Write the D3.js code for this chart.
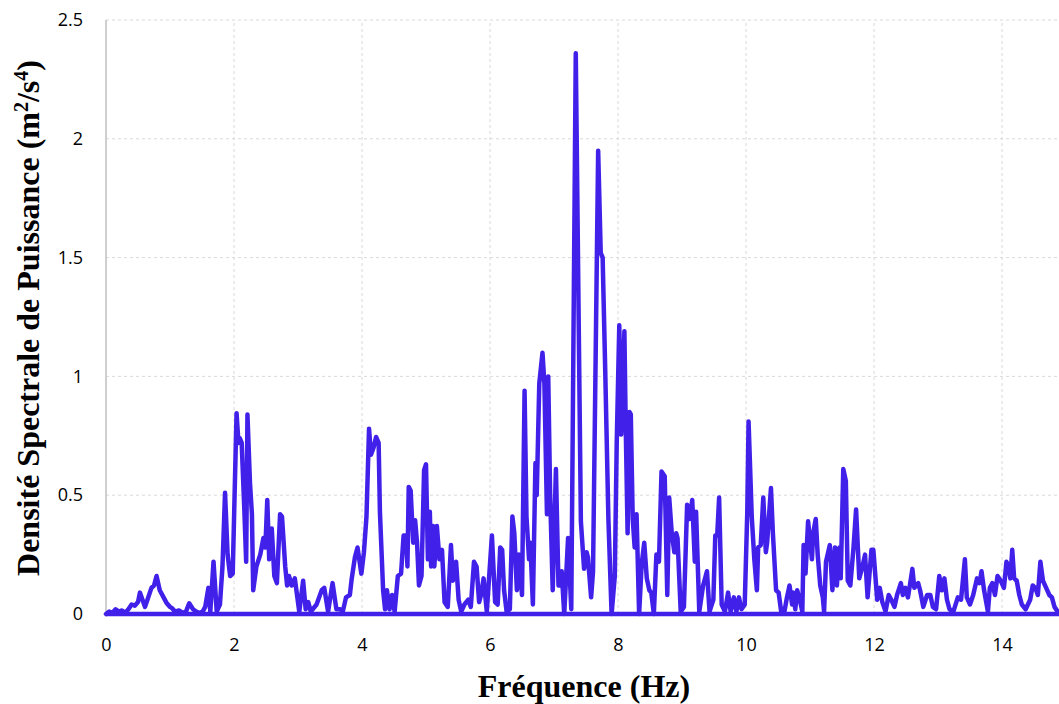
<!DOCTYPE html>
<html>
<head>
<meta charset="utf-8">
<script src="https://cdn.jsdelivr.net/npm/d3@7"></script>
<style>
  body { margin: 0; background: #fff; }
  svg { display: block; }
</style>
</head>
<body>
<div id="chart"></div>
<script>
// Fréquence (Hz)
const freq = [
  0.0, 0.05, 0.1, 0.15, 0.2, 0.25, 0.3, 0.35, 0.4, 0.45, 0.5, 0.53, 0.57, 0.61, 0.66, 0.71, 0.75, 0.79, 0.84, 0.9,
  0.95, 1.0, 1.03, 1.08, 1.14, 1.2, 1.25, 1.3, 1.36, 1.41, 1.46, 1.51, 1.55, 1.6, 1.63, 1.68, 1.73, 1.78, 1.82, 1.86,
  1.9, 1.94, 1.98, 2.04, 2.07, 2.09, 2.12, 2.16, 2.19, 2.21, 2.25, 2.28, 2.3, 2.35, 2.41, 2.46, 2.49, 2.52, 2.55, 2.59,
  2.63, 2.67, 2.72, 2.75, 2.8, 2.83, 2.86, 2.9, 2.95, 3.02, 3.08, 3.12, 3.16, 3.2, 3.29, 3.37, 3.41, 3.47, 3.54, 3.6,
  3.66, 3.7, 3.75, 3.81, 3.84, 3.89, 3.93, 3.99, 4.03, 4.07, 4.11, 4.14, 4.18, 4.22, 4.26, 4.28, 4.33, 4.36, 4.39, 4.43,
  4.47, 4.51, 4.56, 4.61, 4.65, 4.69, 4.71, 4.73, 4.76, 4.8, 4.83, 4.86, 4.89, 4.93, 4.97, 5.0, 5.03, 5.06, 5.08, 5.11,
  5.13, 5.17, 5.21, 5.25, 5.29, 5.34, 5.36, 5.39, 5.42, 5.47, 5.51, 5.55, 5.6, 5.66, 5.7, 5.75, 5.79, 5.83, 5.86, 5.9,
  5.95, 6.03, 6.08, 6.12, 6.16, 6.19, 6.22, 6.26, 6.31, 6.35, 6.38, 6.42, 6.45, 6.5, 6.54, 6.57, 6.61, 6.63, 6.67, 6.71,
  6.73, 6.77, 6.82, 6.85, 6.89, 6.91, 6.94, 6.98, 7.03, 7.07, 7.1, 7.12, 7.16, 7.22, 7.27, 7.34, 7.42, 7.47, 7.51, 7.53,
  7.58, 7.61, 7.69, 7.73, 7.76, 7.8, 7.85, 7.9, 7.95, 7.98, 8.02, 8.05, 8.07, 8.1, 8.12, 8.15, 8.18, 8.2, 8.23, 8.26,
  8.29, 8.33, 8.37, 8.41, 8.45, 8.49, 8.52, 8.56, 8.6, 8.64, 8.68, 8.73, 8.77, 8.8, 8.84, 8.88, 8.91, 8.93, 8.98, 9.03,
  9.08, 9.12, 9.16, 9.2, 9.22, 9.27, 9.33, 9.39, 9.43, 9.49, 9.52, 9.55, 9.58, 9.62, 9.67, 9.72, 9.76, 9.81, 9.85, 9.89,
  9.93, 9.98, 10.02, 10.04, 10.09, 10.13, 10.17, 10.19, 10.23, 10.27, 10.31, 10.33, 10.39, 10.42, 10.47, 10.51, 10.55, 10.6, 10.64, 10.68,
  10.72, 10.74, 10.77, 10.8, 10.84, 10.88, 10.9, 10.93, 10.97, 11.0, 11.03, 11.05, 11.09, 11.12, 11.16, 11.2, 11.22, 11.25, 11.31, 11.35,
  11.39, 11.42, 11.46, 11.48, 11.52, 11.56, 11.59, 11.63, 11.68, 11.72, 11.77, 11.82, 11.86, 11.9, 11.96, 11.99, 12.05, 12.09, 12.13, 12.18,
  12.23, 12.27, 12.32, 12.36, 12.42, 12.45, 12.49, 12.53, 12.56, 12.6, 12.63, 12.69, 12.72, 12.77, 12.83, 12.88, 12.92, 12.97, 13.02, 13.06,
  13.1, 13.14, 13.18, 13.24, 13.31, 13.36, 13.42, 13.45, 13.5, 13.55, 13.61, 13.65, 13.68, 13.72, 13.78, 13.81, 13.85, 13.89, 13.93, 13.98,
  14.03, 14.07, 14.1, 14.13, 14.16, 14.19, 14.23, 14.27, 14.31, 14.37, 14.44, 14.48, 14.52, 14.56, 14.6, 14.64, 14.69, 14.74, 14.78, 14.82,
  14.87, 14.92
];

// Densité spectrale de puissance (m²/s⁴)
const psd = [
  0.0, 0.01, 0.005, 0.02, 0.01, 0.015, 0.005, 0.02, 0.04, 0.035, 0.05, 0.09, 0.06, 0.03, 0.07, 0.11, 0.12, 0.16, 0.1, 0.07,
  0.045, 0.03, 0.025, 0.01, 0.015, 0.005, 0.01, 0.045, 0.02, 0.01, 0.005, 0.01, 0.03, 0.11, 0.01, 0.22, 0.01, 0.04, 0.2, 0.51,
  0.25, 0.16, 0.17, 0.845, 0.72, 0.74, 0.72, 0.45, 0.22, 0.84, 0.55, 0.42, 0.1, 0.2, 0.25, 0.32, 0.28, 0.48, 0.23, 0.36,
  0.16, 0.13, 0.42, 0.41, 0.2, 0.12, 0.16, 0.12, 0.15, 0.01, 0.14, 0.02, 0.05, 0.01, 0.04, 0.1, 0.11, 0.01, 0.13, 0.02,
  0.02, 0.01, 0.07, 0.08, 0.15, 0.24, 0.28, 0.17, 0.26, 0.41, 0.78, 0.67, 0.7, 0.745, 0.72, 0.43, 0.1, 0.02, 0.1, 0.02,
  0.08, 0.01, 0.16, 0.17, 0.33, 0.33, 0.2, 0.535, 0.52, 0.3, 0.395, 0.3, 0.12, 0.16, 0.605, 0.63, 0.23, 0.43, 0.2, 0.37,
  0.2, 0.37, 0.23, 0.27, 0.05, 0.03, 0.13, 0.29, 0.14, 0.22, 0.06, 0.01, 0.04, 0.06, 0.03, 0.22, 0.2, 0.05, 0.08, 0.15,
  0.01, 0.33, 0.05, 0.04, 0.28, 0.27, 0.1, 0.01, 0.02, 0.41, 0.34, 0.1, 0.25, 0.08, 0.94, 0.41, 0.23, 0.3, 0.04, 0.635,
  0.5, 0.97, 1.1, 0.97, 0.42, 1.0, 0.5, 0.1, 0.61, 0.12, 0.12, 0.18, 0.0, 0.32, 0.02, 2.36, 0.39, 0.19, 0.26, 0.24,
  0.07, 0.18, 1.95, 1.52, 1.5, 1.03, 0.4, 0.0, 0.16, 0.72, 1.215, 0.755, 0.95, 1.19, 0.8, 0.34, 0.85, 0.84, 0.4, 0.28,
  0.42, 0.0, 0.21, 0.3, 0.15, 0.1, 0.09, 0.0, 0.25, 0.22, 0.6, 0.58, 0.08, 0.49, 0.34, 0.26, 0.34, 0.32, 0.01, 0.03,
  0.46, 0.4, 0.48, 0.22, 0.43, 0.01, 0.12, 0.18, 0.01, 0.06, 0.33, 0.33, 0.49, 0.04, 0.01, 0.09, 0.01, 0.07, 0.01, 0.07,
  0.02, 0.04, 0.43, 0.81, 0.41, 0.23, 0.1, 0.28, 0.29, 0.49, 0.26, 0.3, 0.53, 0.34, 0.1, 0.09, 0.01, 0.01, 0.07, 0.12,
  0.04, 0.09, 0.02, 0.1, 0.06, 0.01, 0.29, 0.17, 0.39, 0.31, 0.23, 0.34, 0.4, 0.25, 0.12, 0.07, 0.01, 0.22, 0.29, 0.1,
  0.28, 0.12, 0.28, 0.15, 0.61, 0.56, 0.14, 0.12, 0.28, 0.44, 0.15, 0.2, 0.25, 0.07, 0.27, 0.27, 0.06, 0.11, 0.05, 0.01,
  0.08, 0.06, 0.03, 0.08, 0.13, 0.08, 0.11, 0.07, 0.12, 0.19, 0.11, 0.13, 0.1, 0.03, 0.08, 0.08, 0.03, 0.02, 0.16, 0.1,
  0.15, 0.06, 0.02, 0.01, 0.07, 0.06, 0.23, 0.07, 0.04, 0.08, 0.15, 0.13, 0.18, 0.1, 0.01, 0.11, 0.13, 0.08, 0.16, 0.14,
  0.11, 0.22, 0.2, 0.15, 0.27, 0.15, 0.14, 0.08, 0.04, 0.02, 0.06, 0.12, 0.11, 0.08, 0.22, 0.14, 0.11, 0.08, 0.07, 0.03,
  0.01, 0.0
];

const xTicks = [0, 2, 4, 6, 8, 10, 12, 14];
const yTicks = [0, 0.5, 1, 1.5, 2, 2.5];

const width = 1059, height = 704;
const margin = { top: 20, right: -7, bottom: 90, left: 106 };
const lineColor = '#4121e9';

const svg = d3.select('#chart').append('svg')
  .attr('width', width)
  .attr('height', height);

const x = d3.scaleLinear().domain([0, 15]).range([margin.left, width - margin.right]);
const y = d3.scaleLinear().domain([0, 2.5]).range([height - margin.bottom, margin.top]);

// grille pointillée
svg.append('g')
  .selectAll('line')
  .data(yTicks.filter(d => d > 0))
  .enter().append('line')
  .attr('x1', x(0)).attr('x2', x(15))
  .attr('y1', d => y(d)).attr('y2', d => y(d))
  .attr('stroke', '#d9d9d9').attr('stroke-width', 1).attr('stroke-dasharray', '3,3');

svg.append('g')
  .selectAll('line')
  .data(xTicks.filter(d => d > 0))
  .enter().append('line')
  .attr('x1', d => x(d)).attr('x2', d => x(d))
  .attr('y1', y(0)).attr('y2', y(2.5))
  .attr('stroke', '#d9d9d9').attr('stroke-width', 1).attr('stroke-dasharray', '3,3');

// axe vertical
svg.append('line')
  .attr('x1', x(0)).attr('x2', x(0))
  .attr('y1', y(0)).attr('y2', y(2.5))
  .attr('stroke', '#bfbfbf').attr('stroke-width', 1.5);

// Axes
const xAxis = d3.axisBottom(x).tickValues(xTicks).tickSize(0).tickPadding(24).tickFormat(d3.format('d'));
const yAxis = d3.axisLeft(y).tickValues(yTicks).tickSize(0).tickPadding(23).tickFormat(d => String(d));

const gx = svg.append('g').attr('transform', `translate(0,${y(0)})`).call(xAxis);
const gy = svg.append('g').attr('transform', `translate(${x(0)},0)`).call(yAxis);
[gx, gy].forEach(g => {
  g.select('.domain').remove();
  g.selectAll('text')
    .attr('font-family', '"Open Sans", sans-serif')
    .attr('font-size', 18)
    .attr('fill', '#000');
});

// Courbe
const pts = freq.map((f, i) => ({ f, v: psd[i] }));
const line = d3.line().x(d => x(d.f)).y(d => y(d.v));

svg.append('path')
  .datum(pts)
  .attr('fill', 'none')
  .attr('stroke', lineColor)
  .attr('stroke-width', 4.5)
  .attr('stroke-linejoin', 'round')
  .attr('stroke-linecap', 'round')
  .attr('d', line);

// ligne de base
svg.append('path')
  .datum([{ f: 0, v: 0 }, { f: 15, v: 0 }])
  .attr('fill', 'none')
  .attr('stroke', lineColor)
  .attr('stroke-width', 4.5)
  .attr('d', line);

// Titres des axes
svg.append('text')
  .attr('x', 584).attr('y', 697)
  .attr('text-anchor', 'middle')
  .attr('font-family', '"Liberation Serif", "Times New Roman", serif')
  .attr('font-weight', 'bold')
  .attr('font-size', 32)
  .text('Fréquence (Hz)');

const yt = svg.append('text')
  .attr('transform', 'translate(39,318) rotate(-90)')
  .attr('text-anchor', 'middle')
  .attr('font-family', '"Liberation Serif", "Times New Roman", serif')
  .attr('font-weight', 'bold')
  .attr('font-size', 32);
yt.append('tspan').text('Densité Spectrale de Puissance (m');
yt.append('tspan').attr('font-size', 20).attr('dy', -11).text('2');
yt.append('tspan').attr('dy', 11).text('/s');
yt.append('tspan').attr('font-size', 20).attr('dy', -11).text('4');
yt.append('tspan').attr('dy', 11).text(')');
</script>
</body>
</html>
